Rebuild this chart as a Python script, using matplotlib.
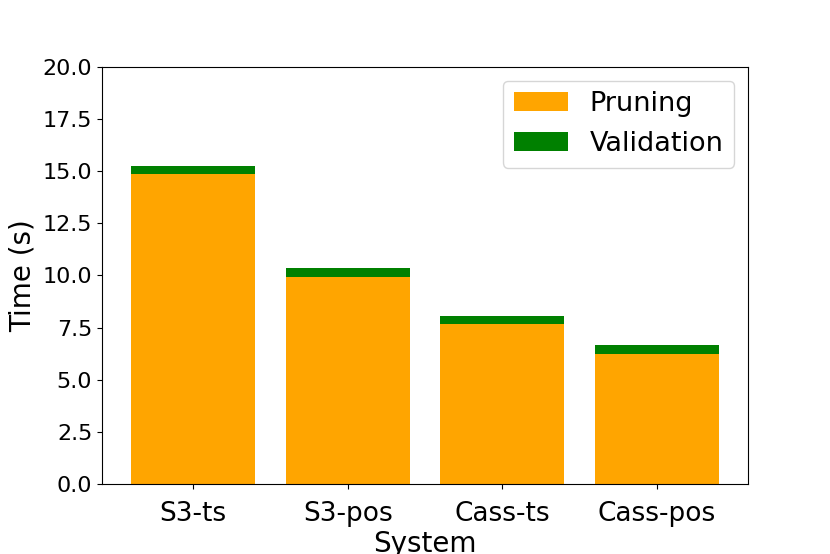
import matplotlib
matplotlib.use('Agg')
import matplotlib.pyplot as plt

systems = ['S3-ts', 'S3-pos', 'Cass-ts', 'Cass-pos']
pruning = [14.87, 9.92, 7.65, 6.23]
validation = [0.40, 0.44, 0.40, 0.44]

plt.rcParams['font.size'] = 19

fig = plt.figure(figsize=(8.3, 5.54), dpi=100)
ax = fig.add_axes([0.1229, 0.1264, 0.7783, 0.7527])

ax.bar(systems, pruning, color='orange', label='Pruning')
ax.bar(systems, validation, bottom=pruning, color='green', label='Validation')

ax.set_ylim(0, 20)
ax.set_yticks([0, 2.5, 5, 7.5, 10, 12.5, 15, 17.5, 20])
ax.tick_params(axis='y', labelsize=16)
ax.tick_params(axis='x', labelsize=19, pad=9)
ax.set_xlabel('System', fontsize=20, labelpad=2)
ax.set_ylabel('Time (s)', fontsize=20)
ax.legend(loc='upper right', fontsize=19.5)

fig.savefig('out.png', dpi=100)
